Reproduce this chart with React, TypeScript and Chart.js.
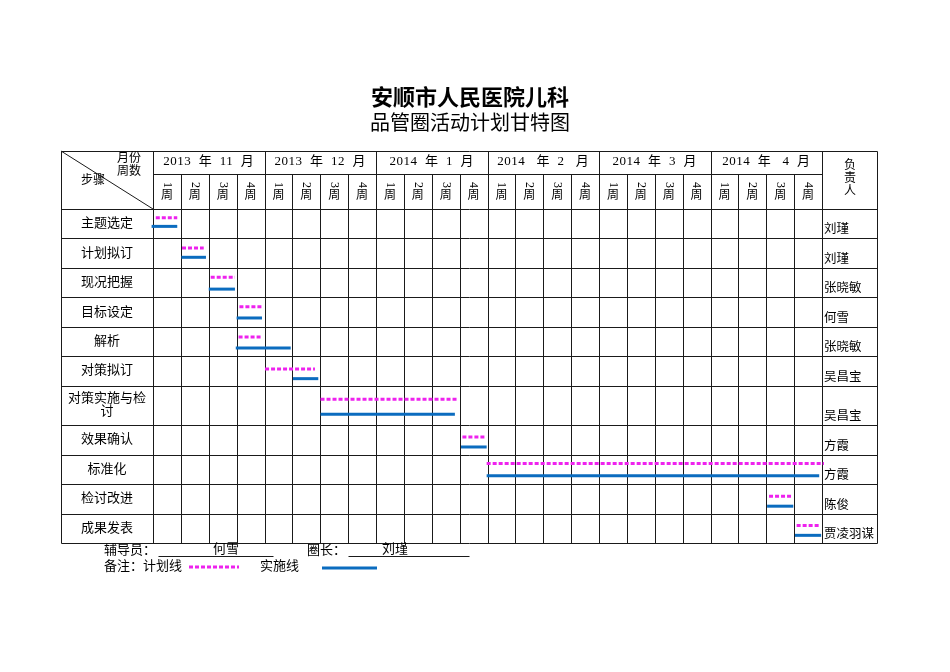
import React, { useEffect, useRef } from "react";
import { Chart, registerables } from "chart.js";

Chart.register(...registerables);

// ---------- data ----------
const titleMain = "安顺市人民医院儿科";
const titleSub = "品管圈活动计划甘特图";
const monthLabels = ["2013  年  11  月", "2013  年  12  月", "2014  年  1  月", "2014   年  2   月", "2014  年  3  月", "2014  年   4  月"];
const weekDigits = ["1", "2", "3", "4"];
const weekUnit = "周";
const tasks = ["主题选定", "计划拟订", "现况把握", "目标设定", "解析", "对策拟订", "对策实施与检|讨", "效果确认", "标准化", "检讨改进", "成果发表"];
const owners = ["刘瑾", "刘瑾", "张晓敏", "何雪", "张晓敏", "吴昌宝", "吴昌宝", "方霞", "方霞", "陈俊", "贾凌羽谋"];
const rowHeights = [1, 1, 1, 1, 1, 1, 1.34, 1, 1, 1, 1];
// values in weeks from start of Nov 2013
const planStart = [0.1, 1.04, 2.07, 3.1, 3.07, 4.02, 6.01, 11.1, 11.97, 22.1, 23.09];
const planEnd = [0.87, 1.82, 2.94, 3.91, 3.89, 5.81, 10.9, 11.95, 24.07, 22.95, 23.95];
const actualStart = [-0.05, 1.02, 2.0, 3.0, 2.97, 5.02, 6.01, 11.05, 11.97, 22.03, 23.03];
const actualEnd = [0.87, 1.9, 2.94, 3.91, 4.94, 5.93, 10.83, 11.97, 23.9, 22.97, 23.97];
// vertical position inside each row (row units)
const planLevel = [0.3, 0.32, 0.32, 0.32, 0.35, 0.43, 0.46, 0.4, 0.3, 0.41, 0.41];
const actualLevel = [0.59, 0.64, 0.72, 0.7, 0.72, 0.76, 0.97, 0.74, 0.72, 0.75, 0.74];
const footerLine1 = ["辅导员：", "何雪", "圈长：", "刘瑾"];
const footerLine2 = ["备注：计划线", "实施线"];
const headerLeft = ["月份", "周数", "步骤"];
const headerRight = ["负", "责", "人"];

const PLAN_COLOR = "#EE22EE";
const ACTUAL_COLOR = "#0B6CBF";
const FONT = "'Liberation Serif','Noto Sans CJK SC',serif";
const TOTAL_WEEKS = 24;

const rowTops: number[] = [];
{
  let acc = 0;
  for (const h of rowHeights) {
    rowTops.push(acc);
    acc += h;
  }
}
const totalRows = rowHeights.reduce((a, b) => a + b, 0);

export default function App() {
  const ref = useRef<HTMLCanvasElement | null>(null);

  useEffect(() => {
    const canvas = ref.current!;
    const datasets: any[] = [];
    tasks.forEach((_, i) => {
      const py = rowTops[i] + planLevel[i];
      const ay = rowTops[i] + actualLevel[i];
      datasets.push({
        label: "计划线",
        data: [{ x: planStart[i], y: py }, { x: planEnd[i], y: py }],
        borderColor: PLAN_COLOR,
        borderWidth: 3,
        borderDash: [4, 2],
        borderCapStyle: "butt",
        pointRadius: 0,
        clip: false,
      });
      datasets.push({
        label: "实施线",
        data: [{ x: actualStart[i], y: ay }, { x: actualEnd[i], y: ay }],
        borderColor: ACTUAL_COLOR,
        borderWidth: 3,
        borderCapStyle: "butt",
        pointRadius: 0,
        clip: false,
      });
    });

    const tablePlugin = {
      id: "ganttTable",
      beforeDraw(chart: any) {
        const ctx = chart.ctx;
        ctx.save();
        ctx.fillStyle = "#fff";
        ctx.fillRect(0, 0, chart.width, chart.height);
        ctx.restore();
      },
      beforeDatasetsDraw(chart: any) {
        const ctx: any = chart.ctx;
        const xs = chart.scales.x;
        const ys = chart.scales.y;
        const ca = chart.chartArea;
        const L = ca.left - 92;
        const R = ca.right + 55;
        const T = 151;
        const MB = 174;
        const px = (v: number) => Math.round(v) + 0.5;
        const line = (a: number, b: number, c: number, d: number) => {
          ctx.beginPath();
          ctx.moveTo(px(a), px(b));
          ctx.lineTo(px(c), px(d));
          ctx.stroke();
        };
        ctx.save();
        ctx.strokeStyle = "#1a1a1a";
        ctx.lineWidth = 1;
        // horizontal
        line(L, T, R, T);
        line(ca.left, MB, ca.right, MB);
        let acc = 0;
        line(L, ys.getPixelForValue(0), R, ys.getPixelForValue(0));
        for (const h of rowHeights) {
          acc += h;
          const y = ys.getPixelForValue(acc);
          line(L, y, R, y);
        }
        const bot = ys.getPixelForValue(totalRows);
        // vertical
        line(L, T, L, bot);
        line(R, T, R, bot);
        for (let w = 0; w <= TOTAL_WEEKS; w++) {
          const x = xs.getPixelForValue(w);
          line(x, w % 4 === 0 ? T : MB, x, bot);
        }
        // diagonal
        ctx.beginPath();
        ctx.moveTo(L, T);
        ctx.lineTo(ca.left, ca.top);
        ctx.stroke();

        // texts
        ctx.fillStyle = "#000";
        ctx.textBaseline = "middle";
        // title
        ctx.textAlign = "center";
        ctx.font = "bold 22px 'Noto Sans CJK SC'";
        ctx.fillText(titleMain, 470, 97);
        ctx.font = "20px 'Noto Sans CJK SC'";
        ctx.fillText(titleSub, 470, 122);

        // months
        ctx.font = `13px ${FONT}`;
        ctx.letterSpacing = "0.5px";
        monthLabels.forEach((m, i) => {
          const cx = (xs.getPixelForValue(i * 4) + xs.getPixelForValue(i * 4 + 4)) / 2;
          ctx.fillText(m, cx, 162);
        });
        ctx.letterSpacing = "0px";
        // weeks
        ctx.font = `12px ${FONT}`;
        for (let w = 0; w < TOTAL_WEEKS; w++) {
          const cx = xs.getPixelForValue(w + 0.5);
          ctx.save();
          ctx.translate(cx, 185);
          ctx.rotate(Math.PI / 2);
          ctx.fillText(weekDigits[w % 4], 0, 0);
          ctx.restore();
          ctx.fillText(weekUnit, cx, 196);
        }
        // header left
        ctx.font = `12px ${FONT}`;
        ctx.fillText(headerLeft[0], 129, 159);
        ctx.fillText(headerLeft[1], 129, 172);
        ctx.fillText(headerLeft[2], 93, 181);
        // header right
        headerRight.forEach((c, i) => ctx.fillText(c, 850, 166 + i * 13));

        // task names
        ctx.font = `13px ${FONT}`;
        tasks.forEach((t, i) => {
          const top = ys.getPixelForValue(rowTops[i]);
          const b = ys.getPixelForValue(rowTops[i] + rowHeights[i]);
          const parts = t.split("|");
          const cx = (L + ca.left) / 2;
          if (parts.length === 1) {
            ctx.fillText(t, cx, (top + b) / 2);
          } else {
            ctx.fillText(parts[0], cx, top + 13);
            ctx.fillText(parts[1], cx, top + 26);
          }
        });
        // owners
        ctx.textAlign = "left";
        ctx.textBaseline = "bottom";
        ctx.font = `12.5px ${FONT}`;
        owners.forEach((o, i) => {
          const b = ys.getPixelForValue(rowTops[i] + rowHeights[i]);
          ctx.fillText(o, ca.right + 2, b - 2);
        });

        // footer
        ctx.textBaseline = "middle";
        ctx.font = `13px ${FONT}`;
        ctx.fillText(footerLine1[0], 104, 551);
        ctx.fillText(footerLine1[2], 307, 551);
        ctx.textAlign = "center";
        ctx.fillText(footerLine1[1], 226, 550);
        ctx.fillText(footerLine1[3], 395, 550);
        line(158, 556, 273, 556);
        line(348, 556, 469, 556);
        ctx.textAlign = "left";
        ctx.fillText(footerLine2[0], 104, 567);
        ctx.fillText(footerLine2[1], 260, 567);
        ctx.restore();

        ctx.save();
        ctx.lineWidth = 3;
        ctx.strokeStyle = PLAN_COLOR;
        ctx.setLineDash([4, 2]);
        ctx.beginPath();
        ctx.moveTo(189, 567);
        ctx.lineTo(239, 567);
        ctx.stroke();
        ctx.setLineDash([]);
        ctx.strokeStyle = ACTUAL_COLOR;
        ctx.beginPath();
        ctx.moveTo(322, 568);
        ctx.lineTo(377, 568);
        ctx.stroke();
        ctx.restore();
      },
    };

    const chart = new Chart(canvas, {
      type: "line",
      data: { datasets },
      options: {
        animation: false,
        responsive: false,
        devicePixelRatio: 1,
        layout: { padding: { left: 153, right: 128, top: 209, bottom: 129 } },
        plugins: { legend: { display: false }, title: { display: false }, tooltip: { enabled: false } },
        scales: {
          x: { type: "linear", min: 0, max: TOTAL_WEEKS, display: false },
          y: { type: "linear", min: 0, max: totalRows, reverse: true, display: false },
        },
      },
      plugins: [tablePlugin],
    } as any);
    return () => chart.destroy();
  }, []);

  return (
    <div style={{ position: "absolute", left: 0, top: 0, width: 950, height: 672 }}>
      <canvas ref={ref} width={950} height={672} style={{ display: "block", width: 950, height: 672 }} />
    </div>
  );
}
